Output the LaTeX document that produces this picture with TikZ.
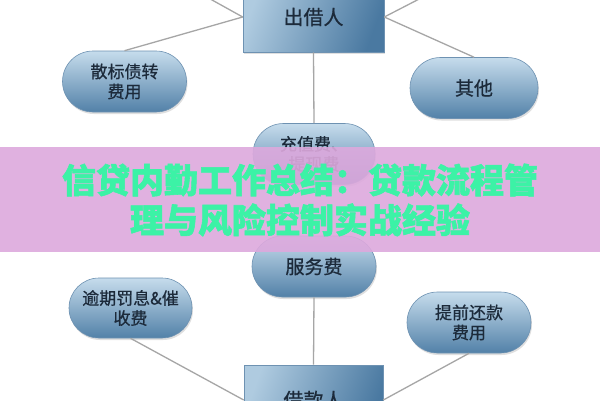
\documentclass[tikz,border=0pt]{standalone}
\usepackage{fontspec}
\newfontfamily\cjk[FakeBold=0.7]{Noto Sans CJK SC}
\newfontfamily\cjkheavy[BoldFeatures={FakeBold=1.6}]{Noto Sans CJK SC}
\usetikzlibrary{shapes.misc,shadows}
\definecolor{pilltop}{HTML}{C6DCEC}
\definecolor{pillbot}{HTML}{5281A8}
\definecolor{pillborder}{HTML}{6E92B2}
\definecolor{boxlight}{HTML}{AFCBE0}
\definecolor{boxdark}{HTML}{4A79A1}
\definecolor{linegray}{HTML}{A6A6A6}
\definecolor{txt}{HTML}{1C2A3A}
\definecolor{bannerpink}{HTML}{DDA9DD}
\definecolor{bannergreen}{HTML}{3CF2A6}
\tikzset{
  link/.style={draw=linegray, line width=1.3pt},
  pill/.style={rounded rectangle, draw=pillborder, line width=0.6pt,
    top color=pilltop, bottom color=pillbot,
    minimum width=124pt, minimum height=61pt, inner sep=0pt, align=center,
    text=txt, font=\cjk\fontsize{17}{20}\selectfont,
    drop shadow={shadow xshift=1pt, shadow yshift=-2pt, opacity=0.25}},
  bigpill/.style={pill, font=\cjk\fontsize{19}{22}\selectfont},
  personbox/.style={rectangle, draw=pillborder, line width=0.6pt,
    left color=boxlight, right color=boxdark, shading angle=70,
    minimum width=141pt, minimum height=70pt, inner sep=0pt,
    text=txt, font=\cjk\fontsize{20}{24}\selectfont,
    drop shadow={shadow xshift=1pt, shadow yshift=-2pt, opacity=0.25}},
  bannertext/.style={text=bannergreen, anchor=base, inner sep=0pt,
    font=\cjkheavy\bfseries\fontsize{34}{40}\selectfont}
}
\begin{document}
\begin{tikzpicture}[x=1pt,y=-1pt]
\path[use as bounding box] (0,0) rectangle (600,400);
\clip (0,0) rectangle (600,400);
\fill[white] (0,0) rectangle (600,400);

\node[personbox] (lender) at (313.5,17) {出借人};
\node[personbox, minimum width=139pt] (borrower) at (313.5,400) {借款人};

\node[pill] (sanbiao) at (124.5,81.5) {散标债转\\费用};
\node[bigpill, minimum width=128pt] (qita) at (474,88) {其他};
\node[pill, minimum width=122pt] (chongzhi) at (314,154) {充值费、\\提现费};
\node[bigpill] (fuwu) at (314,266.5) {服务费};
\node[pill, minimum width=123pt, minimum height=60pt] (yuqi) at (130.5,308) {逾期罚息\&催\\收费};
\node[pill] (tiqian) at (469,322.5) {提前还款\\费用};

\coordinate (ul) at (176,-20);
\coordinate (ur) at (456,-20);

\draw[link] (lender.west) -- (ul);
\draw[link] (lender.east) -- (ur);
\draw[link] (lender.west) -- (sanbiao.north);
\draw[link] (lender.east) -- (qita.north);
\draw[link] (lender.south) -- (chongzhi.north);
\draw[link] (fuwu.south) -- (borrower.north);
\draw[link] (yuqi.south) -- (borrower.west);
\draw[link] (tiqian.south) -- (borrower.east);

\fill[bannerpink, opacity=0.9] (0,147) rectangle (600,252);
\node[bannertext] (title1) at (300,193) {信贷内勤工作总结：贷款流程管};
\node[bannertext] (title2) at (300,233) {理与风险控制实战经验};
\end{tikzpicture}
\end{document}
